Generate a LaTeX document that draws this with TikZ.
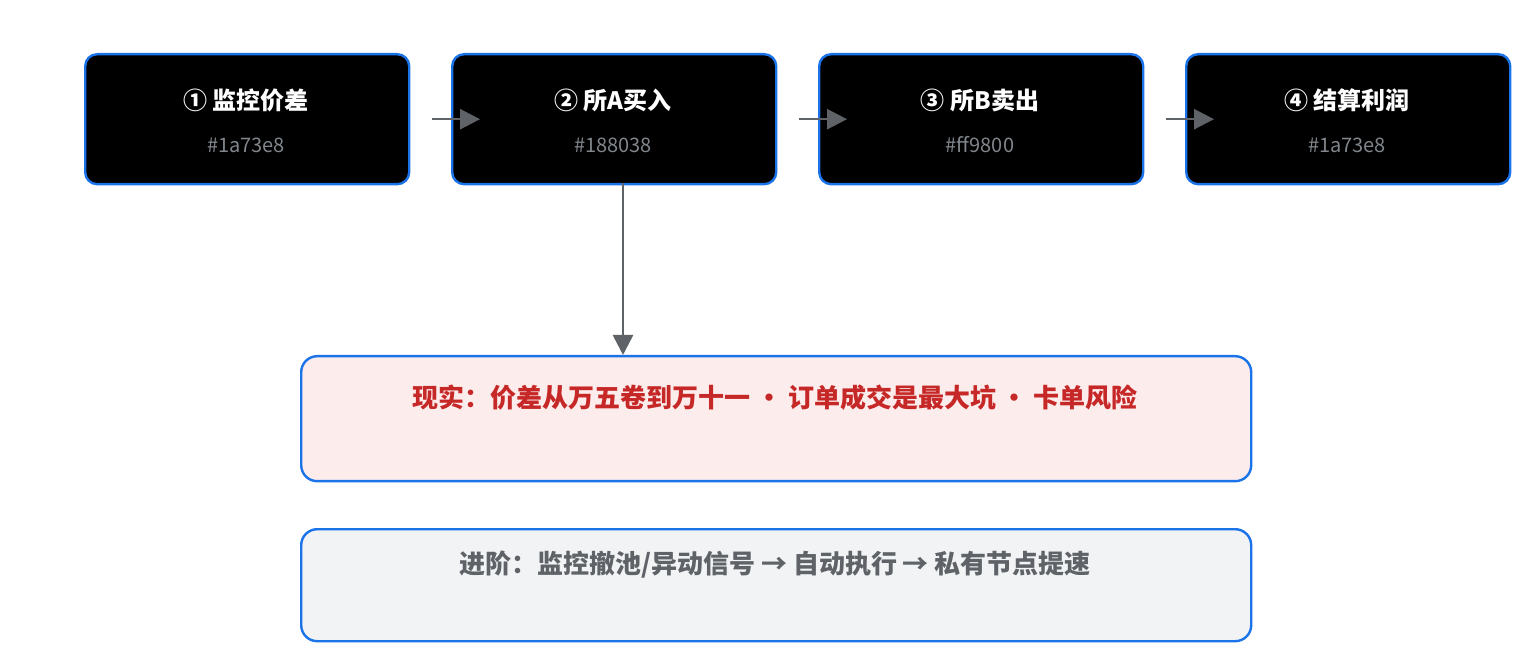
\documentclass[tikz,border=0pt]{standalone}
\usepackage{fontspec}
\setmainfont{Noto Sans CJK SC}
\usetikzlibrary{positioning,arrows.meta}
\definecolor{bordblue}{HTML}{1A73E8}
\definecolor{arrgray}{HTML}{5F6368}
\definecolor{subgray}{HTML}{80868B}
\definecolor{warnred}{HTML}{C62828}
\definecolor{warnfill}{HTML}{FDECEC}
\definecolor{notefill}{HTML}{F1F3F4}
\begin{document}
\begin{tikzpicture}[
    x=0.5pt, y=-0.5pt,
    stage/.style={draw=bordblue, line width=1.2pt, fill=black, rounded corners=6pt,
        minimum width=162pt, minimum height=65pt, anchor=north west},
    title/.style={text=white, font=\bfseries\fontsize{12}{14}\selectfont},
    code/.style={text=subgray, font=\fontsize{10}{12}\selectfont},
    flow/.style={draw=arrgray, line width=1.3pt, -{Triangle[length=10pt,width=10pt]}, color=arrgray},
    panel/.style={draw=bordblue, line width=1.2pt, rounded corners=8pt,
        minimum width=475pt, anchor=north west}
]
\useasboundingbox (0,0) rectangle (1526,646);

% Define stage boxes
\node[stage] (s1) at (84,53) {};
\node[stage] (s2) at (451,53) {};
\node[stage] (s3) at (818,53) {};
\node[stage] (s4) at (1185,53) {};

% Titles and colour codes
\node[title] at (246,100) {① 监控价差};
\node[code] at (246,145) {\#1a73e8};
\node[title] at (613,100) {② 所A买入};
\node[code] at (613,145) {\#188038};
\node[title] at (980,100) {③ 所B卖出};
\node[code] at (980,145) {\#ff9800};
\node[title] at (1347,100) {④ 结算利润};
\node[code] at (1347,145) {\#1a73e8};

% Panels below
\node[panel, fill=warnfill, minimum height=62.5pt] (risk) at (300,355) {};
\node[text=warnred, font=\bfseries\fontsize{13}{15}\selectfont] at (775,398)
    {现实：价差从万五卷到万十一 · 订单成交是最大坑 · 卡单风险};
\node[panel, fill=notefill, minimum height=56pt] (next) at (300,528) {};
\node[text=arrgray, font=\bfseries\fontsize{13}{15}\selectfont] at (775,565)
    {进阶：监控撤池/异动信号 → 自动执行 → 私有节点提速};

% Draw arrows
\draw[flow, shorten <=11pt, shorten >=-14.5pt] (s1.east) -- (s2.west);
\draw[flow, shorten <=11pt, shorten >=-14.5pt] (s2.east) -- (s3.west);
\draw[flow, shorten <=11pt, shorten >=-14.5pt] (s3.east) -- (s4.west);
\coordinate (drop) at (623,183);
\draw[flow] (drop) -- (drop |- risk.north);

\end{tikzpicture}
\end{document}
